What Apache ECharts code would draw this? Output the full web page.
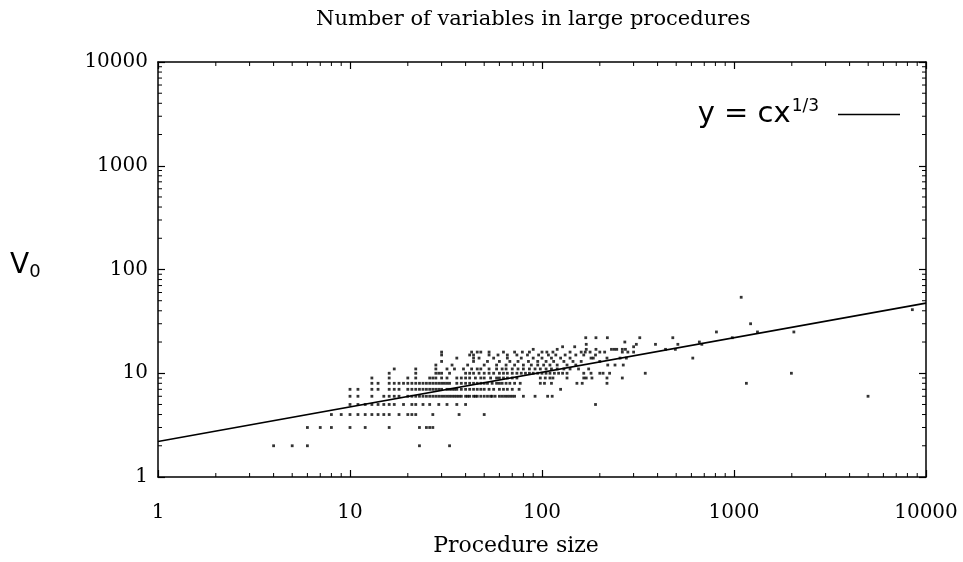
<!DOCTYPE html>
<html>
<head>
<meta charset="utf-8">
<script src="https://cdn.jsdelivr.net/npm/echarts@6/dist/echarts.min.js"></script>
<style>
  html, body { margin: 0; padding: 0; background: #fff; }
  #chart { width: 963px; height: 562px; }
</style>
</head>
<body>
<div id="chart"></div>
<script>
// ── Data ──────────────────────────────────────────────────────────────
// number of variables (V0) and the procedure sizes seen at each count
const varCounts = [2, 3, 4, 5, 6, 7, 8, 9, 10, 11, 12, 13, 14, 15, 16, 17, 18, 19, 20, 22, 25, 30, 41, 54];
const sizesByCount = [
  [4, 5, 6, 23, 33],
  [6, 7, 8, 10, 12, 16, 23, 25, 26, 27],
  [8, 9, 10, 11, 12, 13, 14, 15, 16, 18, 20, 21, 22, 27, 37, 50],
  [10, 11, 12, 13, 14, 15, 16, 17, 19, 21, 22, 24, 26, 29, 32, 36, 40, 190],
  [10, 11, 13, 15, 16, 17, 18, 20, 21, 22, 23, 24, 25, 26, 27, 28, 29, 30, 31, 32, 33, 34, 35, 36, 37, 38, 40, 41, 42, 44, 45, 46, 48, 50, 52, 54, 55, 57, 60, 62, 64, 66, 68, 70, 72, 80, 92, 107, 113, 4990],
  [10, 11, 13, 14, 16, 17, 18, 20, 21, 22, 23, 24, 25, 26, 27, 28, 29, 30, 32, 33, 34, 35, 36, 38, 40, 42, 44, 46, 48, 50, 53, 56, 60, 63, 66, 70, 76, 125],
  [13, 14, 16, 17, 18, 19, 20, 21, 22, 23, 24, 25, 26, 27, 28, 29, 30, 31, 32, 33, 36, 38, 40, 42, 44, 46, 48, 50, 52, 55, 58, 60, 62, 65, 68, 72, 77, 98, 103, 112, 152, 162, 218, 1160],
  [13, 16, 20, 22, 26, 27, 28, 30, 32, 36, 38, 40, 42, 45, 48, 50, 54, 58, 60, 63, 66, 70, 74, 98, 104, 110, 114, 135, 165, 170, 182, 218, 262],
  [16, 22, 28, 29, 30, 33, 40, 42, 44, 47, 50, 53, 56, 60, 63, 66, 70, 74, 78, 82, 86, 90, 95, 100, 105, 110, 116, 122, 128, 135, 165, 180, 200, 208, 225, 345, 1990],
  [17, 22, 28, 32, 35, 39, 43, 46, 48, 53, 58, 62, 65, 70, 75, 80, 86, 92, 98, 105, 112, 120, 130, 140, 155, 175],
  [28, 34, 41, 50, 58, 65, 72, 80, 88, 95, 102, 110, 120, 135, 150, 220, 240, 265],
  [30, 44, 52, 60, 68, 75, 85, 95, 105, 115, 130, 145, 160, 200],
  [36, 44, 47, 56, 66, 78, 90, 100, 112, 125, 140, 180, 185, 218, 255, 275, 610],
  [30, 42, 44, 53, 59, 66, 74, 84, 96, 108, 118, 132, 150, 165, 190],
  [30, 43, 46, 48, 53, 63, 72, 79, 86, 100, 106, 114, 140, 160, 168, 178, 200, 212, 262, 280, 300],
  [90, 120, 170, 191, 230, 238, 245, 262, 272, 440, 495],
  [128, 148, 300],
  [170, 310, 390, 510, 680],
  [270, 660],
  [169, 191, 219, 323, 480, 980],
  [810, 1325, 2050],
  [1220],
  [8490],
  [1090]
];

// fitted curve y = c x^(1/3), c ~ 2.2 (straight on log-log, two ends)
const fitX = [1, 10000];
const fitY = [2.2, 47.4];

// minor tick values for both log axes
const minorTicks = [2, 3, 4, 5, 6, 7, 8, 9, 20, 30, 40, 50, 60, 70, 80, 90,
  200, 300, 400, 500, 600, 700, 800, 900, 2000, 3000, 4000, 5000, 6000, 7000, 8000, 9000];

const axisMin = 1;
const axisMax = 10000;

// ── Build ─────────────────────────────────────────────────────────────
const points = [];
varCounts.forEach((v, i) => sizesByCount[i].forEach(s => points.push([s, v])));
const fitLine = fitX.map((x, i) => [x, fitY[i]]);

const serif = "'DejaVu Serif', serif";
const sans = "'DejaVu Sans', sans-serif";
const ink = '#000';

const logAxis = (extra) => Object.assign({
  type: 'log', logBase: 10, min: axisMin, max: axisMax,
  axisLine: { show: true, lineStyle: { color: ink, width: 1.5 } },
  axisTick: { show: true, inside: true, length: 7, lineStyle: { color: ink, width: 1.2 } },
  minorTick: { show: false },
  splitLine: { show: false },
  axisLabel: { show: false }
}, extra);

const tickLabel = {
  show: true, color: ink, fontFamily: serif, fontSize: 20,
  formatter: (v) => String(Math.round(v))
};

// small inward ticks along all four sides of the frame
function minorRender(isX) {
  return (params, api) => {
    const cs = params.coordSys;
    const len = 4;
    const style = { stroke: ink, lineWidth: 1 };
    const v = api.value(isX ? 0 : 1);
    if (isX) {
      const px = api.coord([v, axisMin])[0];
      const yb = cs.y + cs.height, yt = cs.y;
      return { type: 'group', children: [
        { type: 'line', shape: { x1: px, y1: yb, x2: px, y2: yb - len }, style },
        { type: 'line', shape: { x1: px, y1: yt, x2: px, y2: yt + len }, style }
      ] };
    }
    const py = api.coord([axisMin, v])[1];
    const xl = cs.x, xr = cs.x + cs.width;
    return { type: 'group', children: [
      { type: 'line', shape: { x1: xl, y1: py, x2: xl + len, y2: py }, style },
      { type: 'line', shape: { x1: xr, y1: py, x2: xr - len, y2: py }, style }
    ] };
  };
}

const chart = echarts.init(document.getElementById('chart'), null, { renderer: 'canvas' });
chart.setOption({
  animation: false,
  backgroundColor: '#fff',
  title: {
    text: 'Number of variables in large procedures',
    left: 311, top: 4,
    textStyle: { fontFamily: serif, fontSize: 21, fontWeight: 'normal', color: ink }
  },
  graphic: [{
    type: 'text', left: 10, top: 252,
    style: {
      text: '{v|V}{s|0}',
      rich: {
        v: { fontFamily: sans, fontSize: 28, fill: ink },
        s: { fontFamily: sans, fontSize: 18, fill: ink, padding: [12, 0, 0, 0] }
      }
    }
  }],
  legend: {
    right: 58, top: 93,
    align: 'right',
    itemWidth: 62, itemHeight: 1.5,
    icon: 'rect',
    data: ['fit'],
    formatter: () => '{a|y = cx}{b|1/3}',
    textStyle: {
      color: ink,
      rich: {
        a: { fontFamily: sans, fontSize: 29, color: ink },
        b: { fontFamily: sans, fontSize: 17, color: ink, padding: [0, 14, 16, 1] }
      }
    }
  },
  grid: { left: 158, right: 37, top: 62, bottom: 83 },
  xAxis: [
    logAxis({
      position: 'bottom',
      axisLabel: Object.assign({ margin: 26 }, tickLabel),
      name: 'Procedure size', nameLocation: 'middle', nameGap: 58,
      nameTextStyle: { fontFamily: serif, fontSize: 22, color: ink, padding: [0, 52, 0, 0] }
    }),
    logAxis({ position: 'top' })
  ],
  yAxis: [
    logAxis({ position: 'left', axisLabel: Object.assign({ margin: 10 }, tickLabel) }),
    logAxis({ position: 'right' })
  ],
  series: [
    {
      name: 'sizes', type: 'scatter', data: points,
      symbol: 'rect', symbolSize: 2.8,
      itemStyle: { color: ink }, silent: true
    },
    {
      name: 'fit', type: 'line', data: fitLine,
      symbol: 'none', lineStyle: { color: ink, width: 1.6 },
      itemStyle: { color: ink }, silent: true
    },
    {
      name: 'xMinor', type: 'custom', silent: true, clip: false,
      data: minorTicks.map(v => [v, axisMin]),
      renderItem: minorRender(true)
    },
    {
      name: 'yMinor', type: 'custom', silent: true, clip: false,
      data: minorTicks.map(v => [axisMin, v]),
      renderItem: minorRender(false)
    }
  ]
});
</script>
</body>
</html>
